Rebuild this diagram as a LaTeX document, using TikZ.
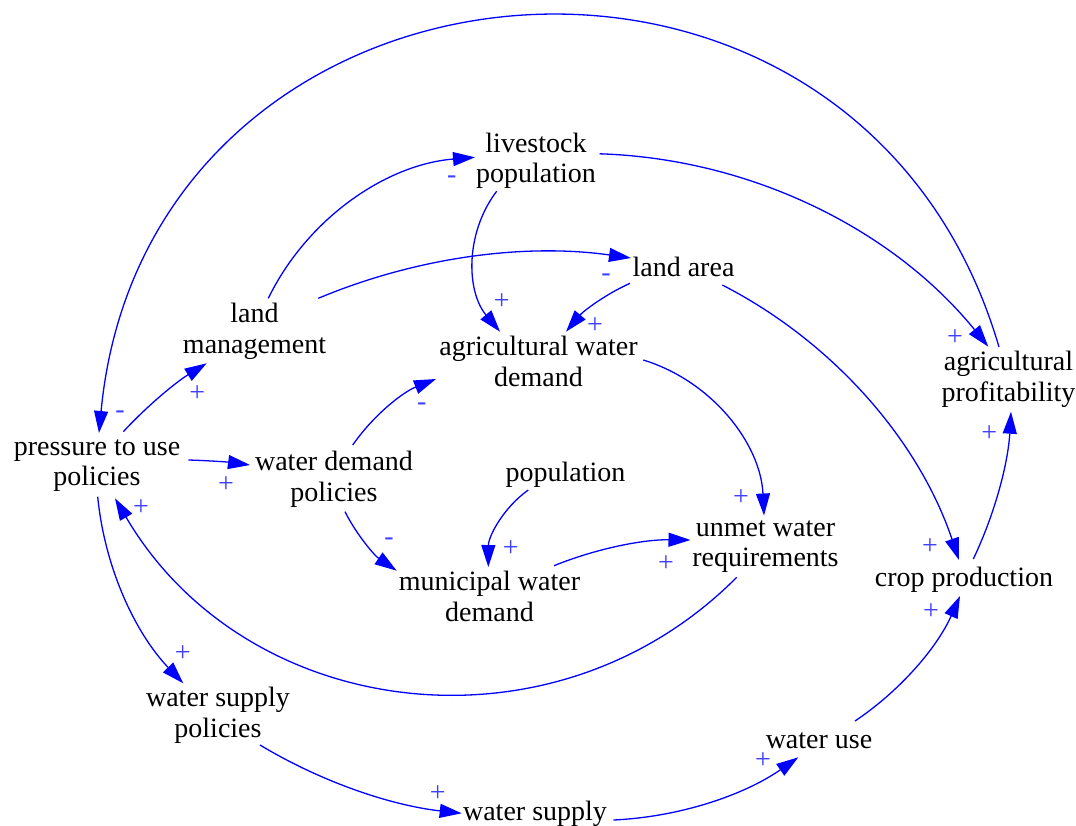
\documentclass[tikz,border=0pt]{standalone}
\usepackage{fontspec}
\setmainfont{Liberation Serif}
\usetikzlibrary{arrows.meta,calc}
\definecolor{linkblue}{RGB}{0,0,255}
\definecolor{polblue}{RGB}{64,64,255}
\begin{document}
\begin{tikzpicture}[x=1pt,y=-1pt,
  var/.style={align=center,inner sep=0pt,font=\fontsize{28}{30.5}\selectfont,
    execute at begin node=\strut,execute at end node=\strut},
  link/.style={draw=linkblue,line width=1.3pt,-{Triangle[length=22pt,width=14pt]}},
  pol/.style={text=polblue,inner sep=0pt,font=\fontsize{28}{30}\selectfont}]
\useasboundingbox (0,0) rectangle (1076,825);
% variables
\node[var] (press) at (97,467) {pressure to use\\policies};
\node[var] (lm) at (254.5,333) {land\\management};
\node[var] (live) at (536,162.5) {livestock\\population};
\node[var] (la) at (683.5,270.4) {land area};
\node[var] (agwd) at (538.5,366) {agricultural water\\demand};
\node[var] (agp) at (1008.5,381) {agricultural\\profitability};
\node[var] (wdp) at (334,481) {water demand\\policies};
\node[var] (popn) at (565.5,475.6) {population};
\node[var] (unmet) at (765.5,548) {unmet water\\requirements};
\node[var] (mwd) at (489.5,601) {municipal water\\demand};
\node[var] (crop) at (964,580.6) {crop production};
\node[var] (wsp) at (218,717) {water supply\\policies};
\node[var] (wuse) at (819,742) {water use};
\node[var] (wsup) at (535,814) {water supply};
% links
\draw[link] ($(press)+(26.3,-35.3)$) to[bend left=7.8,looseness=0.855] ($(lm)+(-47.8,30.3)$);
\draw[link] ($(press)+(91.3,-7)$) to[bend left=3.1,looseness=0.853] ($(wdp)+(-84,-16)$);
\draw[link] ($(wdp)+(18.7,-36)$) to[bend left=16.75,looseness=0.870] ($(agwd)+(-102.5,13)$);
\draw[link] ($(wdp)+(11,30.7)$) to[bend right=14.5,looseness=0.865] ($(mwd)+(-92.8,-30.3)$);
\draw[link] ($(lm)+(13.8,-34.7)$) to[bend left=29.7,looseness=0.911] ($(live)+(-61,-5.2)$);
\draw[link] ($(lm)+(63.8,-34.7)$) to[bend left=15.4,looseness=0.867] ($(la)+(-52.5,-12.4)$);
\draw[link] ($(live)+(-39.3,28.7)$) to[bend right=38.6,looseness=0.956] ($(agwd)+(-38.5,-34.3)$);
\draw[link] ($(la)+(-53.5,12.9)$) to[bend right=12.8,looseness=0.862] ($(agwd)+(27.5,-34.3)$);
\draw[link] ($(live)+(63.5,-8.7)$) to[bend left=24.6,looseness=0.892] ($(agp)+(-20.2,-34.3)$);
\draw[link] ($(agp)+(-9.5,-34)$) to[bend right=79.1,looseness=1.433] ($(press)+(2,-34)$);
\draw[link] ($(agwd)+(104.8,-6)$) to[bend left=35.1,looseness=0.937] ($(unmet)+(-1.5,-32.5)$);
\draw[link] ($(popn)+(-37.2,14.4)$) to[bend right=27.3,looseness=0.902] ($(mwd)+(-1.2,-34)$);
\draw[link] ($(mwd)+(64.5,-35.3)$) to[bend left=11.4,looseness=0.860] ($(unmet)+(-75,-8)$);
\draw[link] ($(unmet)+(-28.8,29.3)$) to[bend left=52.4,looseness=1.057] ($(press)+(18,31.3)$);
\draw[link] ($(press)+(0.7,29.7)$) to[bend right=19.1,looseness=0.876] ($(wsp)+(-34.7,-33.7)$);
\draw[link] ($(wsp)+(42,28)$) to[bend right=12.3,looseness=0.861] ($(wsup)+(-73.3,-0.7)$);
\draw[link] ($(wsup)+(78.3,6)$) to[bend right=16.1,looseness=0.869] ($(wuse)+(-20.7,15.3)$);
\draw[link] ($(wuse)+(36,-21)$) to[bend right=16.1,looseness=0.869] ($(crop)+(-4,15.4)$);
\draw[link] ($(la)+(38.8,14.6)$) to[bend left=22.1,looseness=0.884] ($(crop)+(-5,-20.6)$);
\draw[link] ($(crop)+(9.3,-21.6)$) to[bend right=11.1,looseness=0.859] ($(agp)+(2.5,30.7)$);
% polarities
\node[pol] (p1) at (197.3,393.3) {+};
\node[pol] (p2) at (226,484.3) {+};
\node[pol] (p3) at (421.7,406.7) {-};
\node[pol] (p4) at (389,541.7) {-};
\node[pol] (p5) at (451.7,180) {-};
\node[pol] (p6) at (606,277.3) {-};
\node[pol] (p7) at (501.7,301.7) {+};
\node[pol] (p8) at (595,326) {+};
\node[pol] (p9) at (955,338) {+};
\node[pol] (p10) at (120,415) {-};
\node[pol] (p11) at (741,497.3) {+};
\node[pol] (p12) at (510.7,549) {+};
\node[pol] (p13) at (666,564) {+};
\node[pol] (p14) at (141,507.7) {+};
\node[pol] (p15) at (182.7,654) {+};
\node[pol] (p16) at (437.7,793.3) {+};
\node[pol] (p17) at (763,761) {+};
\node[pol] (p18) at (931,611.7) {+};
\node[pol] (p19) at (930,546.7) {+};
\node[pol] (p20) at (989.3,433.3) {+};
\end{tikzpicture}
\end{document}
